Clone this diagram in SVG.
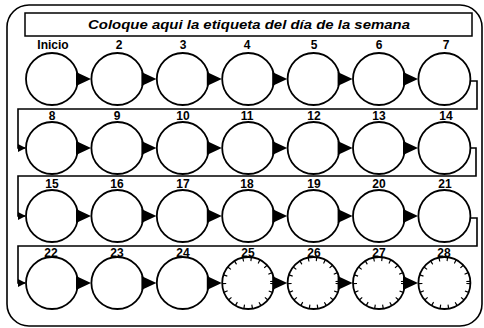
<svg xmlns="http://www.w3.org/2000/svg" width="484" height="328" viewBox="0 0 484 328">
<style>
.frame{fill:none;stroke:#000;stroke-width:1.6}
.node{fill:#fff;stroke:#000;stroke-width:1.8}
.tick{fill:none;stroke:#000;stroke-width:4;stroke-dasharray:1.2 7}
.lbl{font-family:"Liberation Sans",Arial,sans-serif;font-weight:bold;font-size:12px;text-anchor:middle;fill:#000}
.title{font-family:"Liberation Sans",Arial,sans-serif;font-weight:bold;font-style:italic;font-size:13px;text-anchor:middle;fill:#000}
.wire{fill:none;stroke:#000;stroke-width:1.6}
.head{fill:#000;stroke:none}
</style>
<defs>
<marker id="ah" viewBox="0 0 10 10" refX="9" refY="5" markerWidth="8" markerHeight="8" markerUnits="userSpaceOnUse" orient="auto"><path d="M0,0 L10,5 L0,10 Z" fill="#000"/></marker>
</defs>
<rect class="frame" x="7" y="5" width="475" height="321" rx="22"/>
<g id="title-box">
<rect x="25" y="13" width="447" height="23" fill="none" stroke="#000" stroke-width="1.5"/>
<text class="title" x="249" y="29" textLength="322" lengthAdjust="spacingAndGlyphs">Coloque aqui la etiqueta del día de la semana</text>
</g>
<g id="n1"><circle class="node" cx="52" cy="79" r="26"/><text class="lbl" x="53" y="49">Inicio</text></g>
<g id="n2"><circle class="node" cx="117.4" cy="79" r="26"/><text class="lbl" x="119" y="49">2</text></g>
<g id="n3"><circle class="node" cx="182.8" cy="79" r="26"/><text class="lbl" x="183" y="49">3</text></g>
<g id="n4"><circle class="node" cx="248.2" cy="79" r="26"/><text class="lbl" x="247" y="49">4</text></g>
<g id="n5"><circle class="node" cx="313.6" cy="79" r="26"/><text class="lbl" x="314" y="49">5</text></g>
<g id="n6"><circle class="node" cx="379" cy="79" r="26"/><text class="lbl" x="379" y="49">6</text></g>
<g id="n7"><circle class="node" cx="444.4" cy="79" r="26"/><text class="lbl" x="446" y="49">7</text></g>
<g id="n8"><circle class="node" cx="52" cy="148" r="26"/><text class="lbl" x="52" y="120">8</text></g>
<g id="n9"><circle class="node" cx="117.4" cy="148" r="26"/><text class="lbl" x="117" y="120">9</text></g>
<g id="n10"><circle class="node" cx="182.8" cy="148" r="26"/><text class="lbl" x="183" y="120">10</text></g>
<g id="n11"><circle class="node" cx="248.2" cy="148" r="26"/><text class="lbl" x="247" y="120">11</text></g>
<g id="n12"><circle class="node" cx="313.6" cy="148" r="26"/><text class="lbl" x="314" y="120">12</text></g>
<g id="n13"><circle class="node" cx="379" cy="148" r="26"/><text class="lbl" x="379" y="120">13</text></g>
<g id="n14"><circle class="node" cx="444.4" cy="148" r="26"/><text class="lbl" x="446" y="120">14</text></g>
<g id="n15"><circle class="node" cx="52" cy="216" r="26"/><text class="lbl" x="52" y="188">15</text></g>
<g id="n16"><circle class="node" cx="117.4" cy="216" r="26"/><text class="lbl" x="117" y="188">16</text></g>
<g id="n17"><circle class="node" cx="182.8" cy="216" r="26"/><text class="lbl" x="183" y="188">17</text></g>
<g id="n18"><circle class="node" cx="248.2" cy="216" r="26"/><text class="lbl" x="247" y="188">18</text></g>
<g id="n19"><circle class="node" cx="313.6" cy="216" r="26"/><text class="lbl" x="314" y="188">19</text></g>
<g id="n20"><circle class="node" cx="379" cy="216" r="26"/><text class="lbl" x="379" y="188">20</text></g>
<g id="n21"><circle class="node" cx="444.4" cy="216" r="26"/><text class="lbl" x="445" y="188">21</text></g>
<g id="n22"><circle class="node" cx="52" cy="283" r="26"/><text class="lbl" x="51" y="257">22</text></g>
<g id="n23"><circle class="node" cx="117.4" cy="283" r="26"/><text class="lbl" x="117" y="257">23</text></g>
<g id="n24"><circle class="node" cx="182.8" cy="283" r="26"/><text class="lbl" x="183" y="257">24</text></g>
<g id="n25"><circle class="node" cx="248.2" cy="283" r="26"/><circle class="tick" cx="248.2" cy="283" r="24"/><text class="lbl" x="248" y="257">25</text></g>
<g id="n26"><circle class="node" cx="313.6" cy="283" r="26"/><circle class="tick" cx="313.6" cy="283" r="24"/><text class="lbl" x="314" y="257">26</text></g>
<g id="n27"><circle class="node" cx="379" cy="283" r="26"/><circle class="tick" cx="379" cy="283" r="24"/><text class="lbl" x="379" y="257">27</text></g>
<g id="n28"><circle class="node" cx="444.4" cy="283" r="26"/><circle class="tick" cx="444.4" cy="283" r="24"/><text class="lbl" x="444" y="257">28</text></g>
<g id="connectors">
<path class="wire" d="M470.4,81 H477 V109 H18 V148 H25" marker-end="url(#ah)"/>
<path class="wire" d="M470.4,148 H476 V176 H18 V216 H25" marker-end="url(#ah)"/>
<path class="wire" d="M470.4,218 H477 V246 H18 V283 H25" marker-end="url(#ah)"/>
<path class="head" d="M76,72 L91,79 L76,86 Z M141.4,72 L156.4,79 L141.4,86 Z M206.8,72 L221.8,79 L206.8,86 Z M272.2,72 L287.2,79 L272.2,86 Z M337.6,72 L352.6,79 L337.6,86 Z M403,72 L418,79 L403,86 Z"/>
<path class="head" d="M76,141 L91,148 L76,155 Z M141.4,141 L156.4,148 L141.4,155 Z M206.8,141 L221.8,148 L206.8,155 Z M272.2,141 L287.2,148 L272.2,155 Z M337.6,141 L352.6,148 L337.6,155 Z M403,141 L418,148 L403,155 Z"/>
<path class="head" d="M76,209 L91,216 L76,223 Z M141.4,209 L156.4,216 L141.4,223 Z M206.8,209 L221.8,216 L206.8,223 Z M272.2,209 L287.2,216 L272.2,223 Z M337.6,209 L352.6,216 L337.6,223 Z M403,209 L418,216 L403,223 Z"/>
<path class="head" d="M76,276 L91,283 L76,290 Z M141.4,276 L156.4,283 L141.4,290 Z M206.8,276 L221.8,283 L206.8,290 Z M272.2,276 L287.2,283 L272.2,290 Z M337.6,276 L352.6,283 L337.6,290 Z M403,276 L418,283 L403,290 Z"/>
</g>
</svg>
